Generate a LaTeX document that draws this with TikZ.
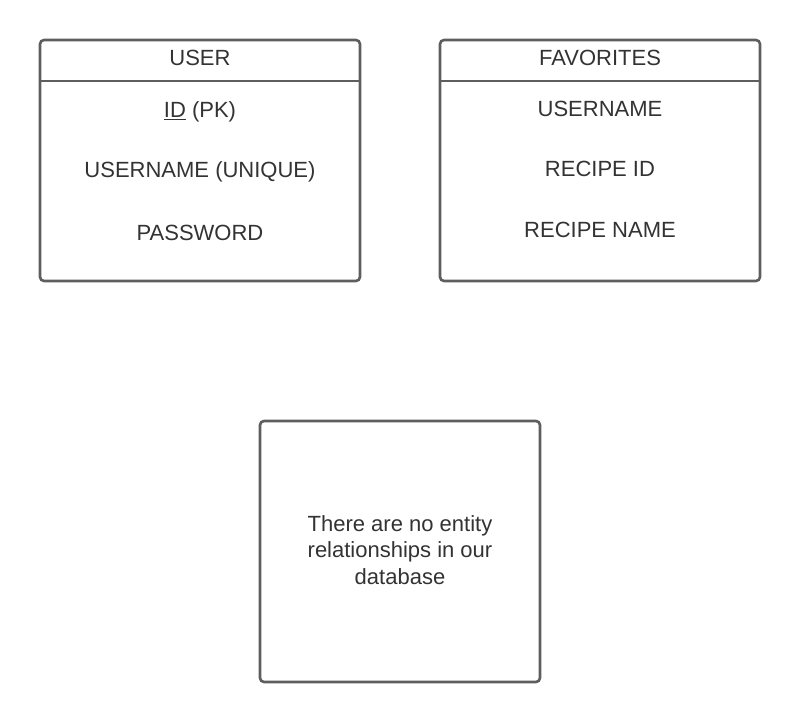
\documentclass[tikz,border=0pt]{standalone}
\usepackage{fontspec}
\setmainfont{Liberation Sans}
\definecolor{edge}{HTML}{5E5E5E}
\definecolor{ink}{HTML}{333333}
\tikzset{
  entity/.style={draw=edge, line width=2.6pt, rounded corners=4pt, fill=white, inner sep=0pt},
  label/.style={text=ink, font=\fontsize{22}{26.5}\selectfont, anchor=base, inner sep=0pt},
  divider/.style={draw=edge, line width=2.6pt}
}
\begin{document}
\begin{tikzpicture}[x=1pt,y=-1pt]
\useasboundingbox (0,0) rectangle (800,722);
% USER entity
\node[entity, minimum width=320pt, minimum height=241pt] (user) at (200,160.5) {};
\coordinate (uL) at (40,81);
\coordinate (uR) at (360,81);
\draw[divider] (uL) -- (uR);
\node[label] (usert) at (200,65.5) {USER};
\node[label] (uid) at (200,117.5) {\underline{ID} (PK)};
\node[label] (uname) at (200,178) {USERNAME (UNIQUE)};
\node[label] (upass) at (200,240.5) {PASSWORD};
% FAVORITES entity
\node[entity, minimum width=320pt, minimum height=241pt] (fav) at (600,160.5) {};
\coordinate (fL) at (440,81);
\coordinate (fR) at (760,81);
\draw[divider] (fL) -- (fR);
\node[label] (favt) at (600,65.5) {FAVORITES};
\node[label] (fname) at (600,117) {USERNAME};
\node[label] (frid) at (600,177) {RECIPE ID};
\node[label] (frname) at (600,237) {RECIPE NAME};
% note
\node[entity, minimum width=280pt, minimum height=261pt] (note) at (400,551.5) {};
\node[text=ink, font=\fontsize{22}{26.5}\selectfont, align=center, inner sep=0pt] (notet) at (400,550) {There are no entity\\relationships in our\\database};
\end{tikzpicture}
\end{document}
